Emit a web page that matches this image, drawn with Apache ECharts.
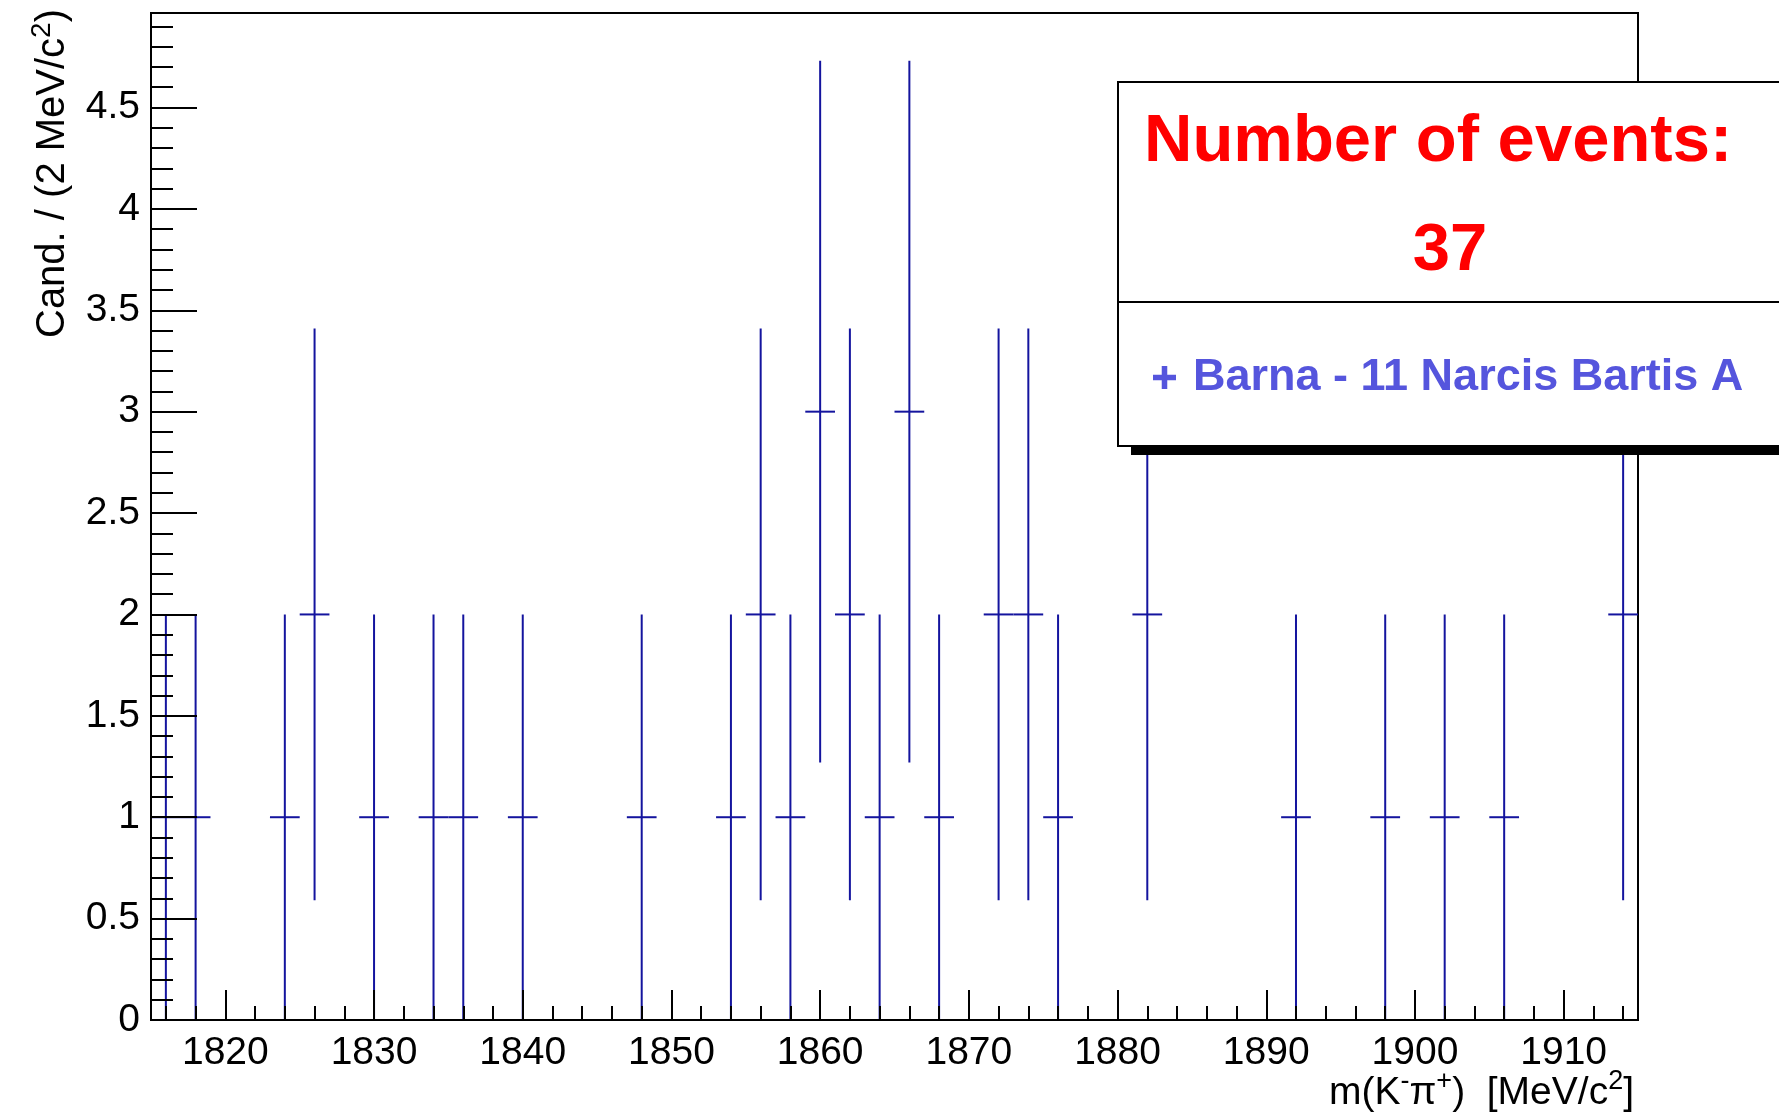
<!DOCTYPE html>
<html>
<head>
<meta charset="utf-8">
<script src="https://cdn.jsdelivr.net/npm/echarts@6/dist/echarts.min.js"></script>
<style>
html,body{margin:0;padding:0;background:#ffffff;}
#chart{width:1779px;height:1116px;}
</style>
</head>
<body>
<div id="chart"></div>
<script>
// ---- data ----
const binCenters = [1816,1818,1824,1826,1830,1834,1836,1840,1848,1854,1856,1858,1860,1862,1864,1866,1868,1872,1874,1876,1882,1892,1898,1902,1906,1914];
const counts     = [1,1,1,2,1,1,1,1,1,1,2,1,3,2,1,3,1,2,2,1,2,1,1,1,1,2];
const errors     = [1,1,1,1.41,1,1,1,1,1,1,1.41,1,1.73,1.41,1,1.73,1,1.41,1.41,1,1.41,1,1,1,1,1.41];
const binWidth   = 2;
const xRange     = [1815, 1915];
const yRange     = [0, 4.966];
const yMajorStep = 0.5;
const yMinorStep = 0.1;
const seriesName = 'Barna - 11 Narcis Bartis A';
const boxTitle   = 'Number of events:';
const totalEvents = 37;
const xTitle = 'm(K{sup|-}π{sup|+})  [MeV/c{sup|2}]';
const yTitle = 'Cand. / (2 MeV/c{sup|2})';

// ---- styles ----
const FONT = 'Liberation Sans, Arial, Helvetica, sans-serif';
const BAR_COLOR = '#14149e';
const LEGEND_COLOR = '#5555dd';

const chart = echarts.init(document.getElementById('chart'), null, {renderer: 'canvas'});

const supRich = {
  sup: {fontSize: 27, lineHeight: 27, verticalAlign: 'top', fontFamily: FONT, color: '#000'}
};

const option = {
  backgroundColor: '#ffffff',
  animation: false,
  grid: {
    left: 151, top: 13, right: 141, bottom: 96,
    show: true, borderColor: '#000', borderWidth: 2, backgroundColor: 'transparent',
    containLabel: false, outerBoundsMode: 'none'
  },
  xAxis: [{
    type: 'value', min: xRange[0], max: xRange[1], splitNumber: 10, position: 'bottom', z: 3,
    axisLine: {show: true, onZero: false, lineStyle: {color: '#000', width: 2}},
    axisTick: {show: true, inside: true, length: 30, lineStyle: {color: '#000', width: 2}},
    axisLabel: {showMinLabel: false, showMaxLabel: false, margin: 14, fontSize: 39, color: '#000', fontFamily: FONT,
      formatter: function (v) { return String(v); }},
    splitLine: {show: false},
    name: xTitle, nameLocation: 'end', nameGap: -4, nameMoveOverlap: false,
    nameTextStyle: {align: 'right', verticalAlign: 'top', padding: [48, 0, 0, 0], fontSize: 39, lineHeight: 50,
      color: '#000', fontFamily: FONT, rich: supRich}
  }, {
    type: 'value', min: xRange[0], max: xRange[1], splitNumber: 50, position: 'bottom', offset: 0, z: 3,
    axisLine: {show: false, onZero: false},
    axisTick: {show: true, inside: true, length: 14, lineStyle: {color: '#000', width: 2}},
    axisLabel: {show: false}, splitLine: {show: false}
  }],
  yAxis: [{
    type: 'value', min: yRange[0], max: yRange[1], interval: yMajorStep, position: 'left', z: 3,
    axisLine: {show: true, onZero: false, lineStyle: {color: '#000', width: 2}},
    axisTick: {show: true, inside: true, length: 46, lineStyle: {color: '#000', width: 2}},
    axisLabel: {showMaxLabel: false, margin: 11, fontSize: 39, color: '#000', fontFamily: FONT},
    splitLine: {show: false},
    name: yTitle, nameLocation: 'end', nameRotate: 90, nameGap: 4, nameMoveOverlap: false,
    nameTextStyle: {align: 'right', verticalAlign: 'bottom', padding: [0, 0, 73, 0], fontSize: 40, lineHeight: 50,
      color: '#000', fontFamily: FONT, rich: {sup: {fontSize: 28, lineHeight: 28, verticalAlign: 'top', fontFamily: FONT, color: '#000'}}}
  }, {
    type: 'value', min: yRange[0], max: yRange[1], interval: yMinorStep, position: 'left', offset: 0, z: 3,
    axisLine: {show: false, onZero: false},
    axisTick: {show: true, inside: true, length: 22, lineStyle: {color: '#000', width: 2}},
    axisLabel: {show: false}, splitLine: {show: false}
  }],
  title: [{
    text: boxTitle, left: 1144, top: 109, padding: 0, z: 12,
    textStyle: {color: '#ff0000', fontSize: 67, fontWeight: 'bold', fontFamily: FONT, lineHeight: 67}
  }, {
    text: String(totalEvents), left: 1450, top: 218, textAlign: 'center', padding: 0, z: 12,
    textStyle: {color: '#ff0000', fontSize: 67, fontWeight: 'bold', fontFamily: FONT, lineHeight: 67}
  }],
  legend: {
    data: [{name: seriesName, icon: 'path://M38,0H62V38H100V62H62V100H38V62H0V38H38Z', itemStyle: {color: LEGEND_COLOR}}],
    left: 1153, top: 355, padding: 0, itemWidth: 23, itemHeight: 23, selectedMode: false, z: 12,
    formatter: function (name) { return '{g| }{t|' + name + '}'; },
    textStyle: {color: LEGEND_COLOR, fontSize: 45, fontWeight: 'bold', fontFamily: FONT,
      rich: {
        g: {width: 12, fontSize: 45},
        t: {color: LEGEND_COLOR, fontSize: 45, fontWeight: 'bold', fontFamily: FONT}
      }}
  },
  graphic: [
    {type: 'rect', z: 10, shape: {x: 1131, y: 446, width: 700, height: 9}, style: {fill: '#000'}},
    {type: 'rect', z: 10, shape: {x: 1118, y: 82, width: 700, height: 364}, style: {fill: '#fff', stroke: '#000', lineWidth: 2}},
    {type: 'line', z: 11, shape: {x1: 1118, y1: 302, x2: 1800, y2: 302}, style: {stroke: '#000', lineWidth: 2}}
  ],
  series: [{
    type: 'custom', name: seriesName, xAxisIndex: 0, yAxisIndex: 0, z: 2,
    itemStyle: {color: BAR_COLOR},
    encode: {x: 0, y: 1},
    data: binCenters.map(function (c, i) { return [c, counts[i], errors[i]]; }),
    renderItem: function (params, api) {
      const x = api.value(0), y = api.value(1), e = api.value(2);
      const top = api.coord([x, y + e]);
      const bot = api.coord([x, Math.max(0, y - e)]);
      const left = api.coord([x - binWidth / 2, y]);
      const right = api.coord([x + binWidth / 2, y]);
      const st = {stroke: BAR_COLOR, lineWidth: 2};
      return {
        type: 'group',
        children: [
          {type: 'line', shape: {x1: top[0], y1: top[1], x2: bot[0], y2: bot[1]}, style: st},
          {type: 'line', shape: {x1: left[0], y1: left[1], x2: right[0], y2: right[1]}, style: st}
        ]
      };
    }
  }]
};

chart.setOption(option);
</script>
</body>
</html>
